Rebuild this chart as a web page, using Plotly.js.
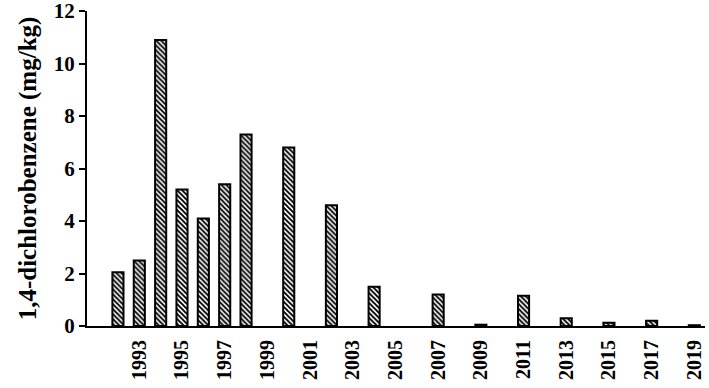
<!DOCTYPE html>
<html><head><meta charset="utf-8">
<script src="https://cdn.plot.ly/plotly-3.0.1.min.js"></script>
<style>body{margin:0;background:#fff}#c{width:709px;height:388px}</style>
</head><body><div id="c"></div>
<script>
const years = [1992,1993,1994,1995,1996,1997,1998,2000,2002,2004,2007,2009,2011,2013,2015,2017,2019];
const values = [2.05,2.5,10.9,5.2,4.1,5.4,7.3,6.8,4.6,1.5,1.2,0.05,1.15,0.3,0.12,0.2,0.03];
const tickYears = [1993,1995,1997,1999,2001,2003,2005,2007,2009,2011,2013,2015,2017,2019];
const yTitle = '1,4-dichlorobenzene (mg/kg)';

const font = {family:'"Liberation Serif", "Times New Roman", serif', size:21, color:'#000', weight:'bold'};
Plotly.newPlot('c', [{
  type:'bar', x:years, y:values, width:0.52,
  marker:{color:'#fff', line:{color:'#000', width:2},
    pattern:{shape:'\\', fgcolor:'#000', bgcolor:'#fff', size:3.5, solidity:0.55}}
}], {
  width:709, height:388,
  margin:{l:87, r:4, t:11, b:62},
  paper_bgcolor:'#fff', plot_bgcolor:'#fff',
  showlegend:false, bargap:0,
  font:font,
  xaxis:{range:[1990.55,2019.5], tickvals:tickYears, ticktext:tickYears.map(String),
    tickangle:-90, showgrid:false, zeroline:false, showline:true, linecolor:'#000', linewidth:2,
    ticks:'', tickfont:{...font, size:20}, ticklabelstandoff:4},
  yaxis:{range:[0,12], tickvals:[0,2,4,6,8,10,12], showgrid:false, zeroline:false,
    showline:true, linecolor:'#000', linewidth:2, ticks:'outside', ticklen:6, tickwidth:2, tickcolor:'#000',
    tickfont:font, ticklabeloverflow:'allow',
    title:{text:yTitle, font:{...font, size:25}, standoff:10}}
}, {displayModeBar:false, staticPlot:true});
</script></body></html>
